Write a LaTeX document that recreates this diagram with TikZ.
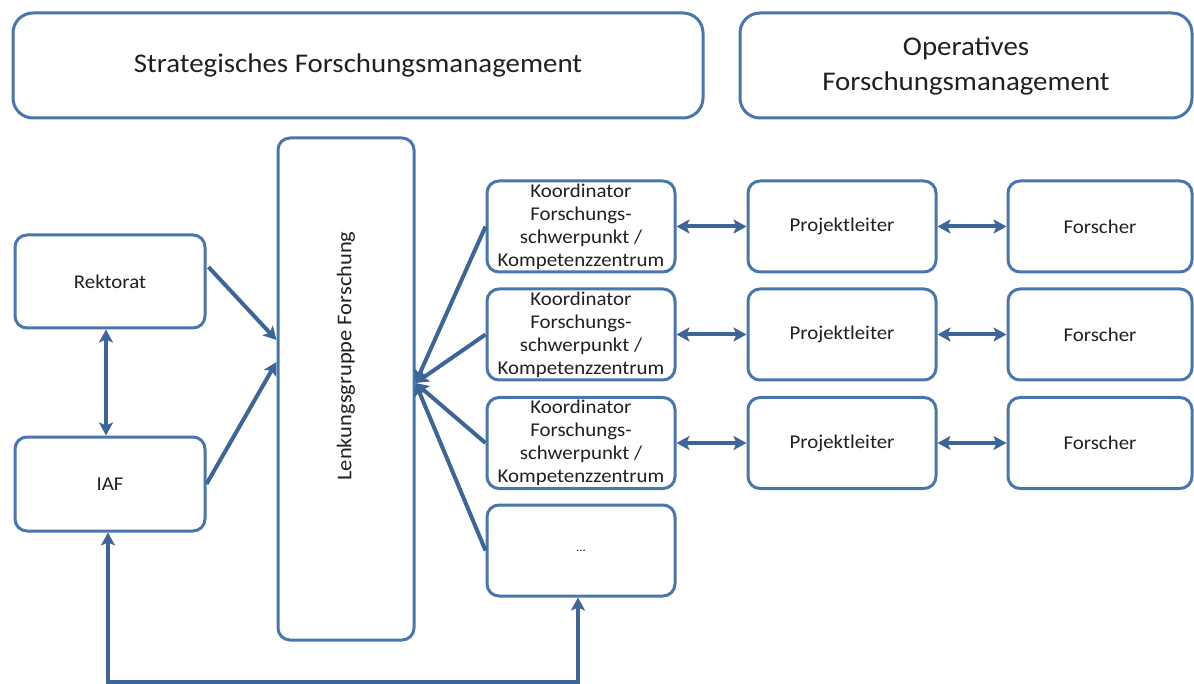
\documentclass[tikz,border=0pt]{standalone}
\usepackage{fontspec}
\setmainfont{Carlito}[FakeStretch=1.07]
\usetikzlibrary{arrows.meta}
\definecolor{boxblue}{HTML}{4A76AE}
\definecolor{arrblue}{HTML}{3D6598}
\definecolor{txt}{HTML}{202020}
\tikzset{
  box/.style={draw=boxblue, line width=3pt, rounded corners=12pt, inner sep=0pt,
    align=center, text=txt, font=\fontsize{19.5}{23}\selectfont},
  bigbox/.style={box, rounded corners=20pt, font=\fontsize{27}{35}\selectfont},
  conn/.style={draw=arrblue, line width=4pt, -{Stealth[length=13pt,width=14pt,inset=3pt]}},
  dconn/.style={draw=arrblue, line width=4pt, {Stealth[length=13pt,width=14pt,inset=3pt]}-{Stealth[length=13pt,width=14pt,inset=3pt]}},
}
\begin{document}
\begin{tikzpicture}[x=1pt,y=-1pt]
\useasboundingbox (0,0) rectangle (1194,684);
% top headers
\node[bigbox, minimum width=690pt, minimum height=105pt] (strat) at (358,65.5) {Strategisches Forschungsmanagement};
\node[bigbox, minimum width=452pt, minimum height=105pt] (oper) at (966,65.5) {Operatives\\Forschungsmanagement};
% left
\node[box, minimum width=190pt, minimum height=93pt] (rek) at (110,281.5) {Rektorat};
\node[box, minimum width=190pt, minimum height=94pt] (iaf) at (110,484) {IAF};
% Lenkungsgruppe
\node[box, minimum width=136pt, minimum height=502pt] (lenk) at (346,389) {};
\node[rotate=90, text=txt, font=\fontsize{21}{23}\selectfont, inner sep=0pt] (lenktext) at (346,356) {Lenkungsgruppe Forschung};
% Koordinator column
\node[box, minimum width=188pt, minimum height=91pt] (k1) at (581,226.5) {Koordinator\\Forschungs-\\schwerpunkt /\\Kompetenzzentrum};
\node[box, minimum width=188pt, minimum height=91pt] (k2) at (581,334.5) {Koordinator\\Forschungs-\\schwerpunkt /\\Kompetenzzentrum};
\node[box, minimum width=188pt, minimum height=91pt] (k3) at (581,443) {Koordinator\\Forschungs-\\schwerpunkt /\\Kompetenzzentrum};
\node[box, minimum width=188pt, minimum height=91pt, font=\fontsize{12}{14}\selectfont] (k4) at (581,550.5) {...};
% Projektleiter
\node[box, minimum width=188pt, minimum height=91pt] (p1) at (842,226.5) {Projektleiter};
\node[box, minimum width=188pt, minimum height=91pt] (p2) at (842,334.5) {Projektleiter};
\node[box, minimum width=188pt, minimum height=91pt] (p3) at (842,443) {Projektleiter};
% Forscher
\node[box, minimum width=184pt, minimum height=91pt] (f1) at (1100,226.5) {Forscher};
\node[box, minimum width=184pt, minimum height=91pt] (f2) at (1100,334.5) {Forscher};
\node[box, minimum width=184pt, minimum height=91pt] (f3) at (1100,443) {Forscher};
% connectors
\coordinate (hub) at ([yshift=6pt]lenk.east);
\draw[conn] ([xshift=2pt,yshift=14.5pt]rek.east) -- ([yshift=49pt]lenk.west);
\draw[conn] (iaf.east) -- ([yshift=27pt]lenk.west);
\draw[dconn] ([xshift=-4pt]rek.south) -- ([xshift=-4pt]iaf.north);
\foreach \k in {k1,k2,k3,k4} \draw[conn] (\k.west) -- (hub);
\draw[dconn] (k1.east) -- (p1.west);
\draw[dconn] (k2.east) -- (p2.west);
\draw[dconn] (k3.east) -- (p3.west);
\draw[dconn] (p1.east) -- (f1.west);
\draw[dconn] (p2.east) -- (f2.west);
\draw[dconn] (p3.east) -- (f3.west);
\coordinate (bl) at ([xshift=-2pt]iaf.south |- 0,682);
\draw[dconn, line join=miter] ([xshift=-2pt]iaf.south) -- (bl) -| ([xshift=-3pt]k4.south);
\end{tikzpicture}
\end{document}
